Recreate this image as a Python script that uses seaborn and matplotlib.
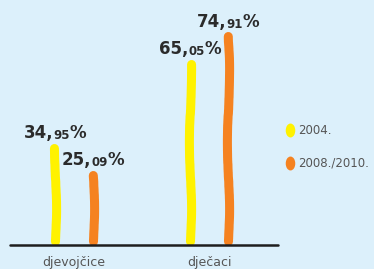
import numpy as np
import pandas as pd
import seaborn as sns
import matplotlib.pyplot as plt
from matplotlib.lines import Line2D
from matplotlib.path import Path
from matplotlib.transforms import Affine2D

# data
groups = ["djevojčice", "dječaci"]
years = ["2004.", "2008./2010."]
val_2004 = [34.95, 65.05]
val_2010 = [25.09, 74.91]

df = pd.DataFrame({
    "grupa": groups * 2,
    "godina": [years[0]] * 2 + [years[1]] * 2,
    "postotak": val_2004 + val_2010,
})

bg = "#dcf0fb"
colors = {"2004.": "#fff200", "2008./2010.": "#f58220"}

sns.set_theme(style="white")
plt.rcParams["font.family"] = ["DejaVu Sans"]

fig = plt.figure(figsize=(3.74, 2.69), dpi=100, facecolor=bg)
ax = fig.add_axes([10 / 374, 24 / 269, 268 / 374, 245 / 269])
ax.set_facecolor(bg)

sns.barplot(data=df, x="grupa", y="postotak", hue="godina", order=groups,
            hue_order=years, palette=colors, width=0.56, saturation=1,
            legend=False, ax=ax)

ax.set_xlim(-0.474, 1.51)
ax.set_ylim(0, 88)

# turn each bar into a thick, slightly wobbly stroke
for patch in list(ax.patches):
    cx = patch.get_x() + patch.get_width() / 2
    h = patch.get_height()
    col = patch.get_facecolor()
    patch.set_visible(False)
    ln, = ax.plot([cx, cx], [1.5, h], color=col, lw=6.5,
                  solid_capstyle="round", zorder=3)
    ln.set_sketch_params(scale=1.1, length=160, randomness=3)

    whole, dec = f"{h:.2f}".split(".")
    t1 = ax.annotate(whole + ",", xy=(cx, h), xytext=(0, 7),
                     textcoords="offset points", ha="left", va="baseline",
                     fontsize=12, fontweight="bold", color="#2b2b2b")
    t2 = ax.annotate(dec, xy=(1, 0), xycoords=t1, xytext=(0, 0),
                     textcoords="offset points", ha="left", va="bottom",
                     fontsize=8.5, fontweight="bold", color="#2b2b2b")
    t3 = ax.annotate("%", xy=(1, 0), xycoords=t2, xytext=(0, 0),
                     textcoords="offset points", ha="left", va="bottom",
                     fontsize=12, fontweight="bold", color="#2b2b2b")
    fig.canvas.draw()
    r = fig.canvas.get_renderer()
    x0 = t1.get_window_extent(r).x0
    x1 = t3.get_window_extent(r).x1
    w_pt = (x1 - x0) * 72 / fig.dpi
    t1.xyann = (-w_pt / 2, 7)

ax.axhline(0, color="#1e1e1e", lw=1.8, zorder=4, clip_on=False)

for s in ax.spines.values():
    s.set_visible(False)
ax.set_yticks([])
ax.set_xlabel("")
ax.set_ylabel("")
ax.tick_params(axis="x", length=0, pad=8, labelsize=9, labelcolor="#555555")

# legend with small oval markers
oval = Path.unit_circle().transformed(Affine2D().scale(0.65, 1.0))
handles = [Line2D([], [], ls="", marker=oval, markersize=9,
                  markerfacecolor=colors[y], markeredgecolor=colors[y])
           for y in years]
fig.legend(handles, years, loc="upper left",
           bbox_to_anchor=(282 / 374, 1 - 119 / 269),
           frameon=False, fontsize=8.5, labelspacing=1.7, handlelength=0.5,
           handletextpad=0.45, borderaxespad=0, labelcolor="#555555")

fig.savefig("out.png", dpi=100, facecolor=bg)
